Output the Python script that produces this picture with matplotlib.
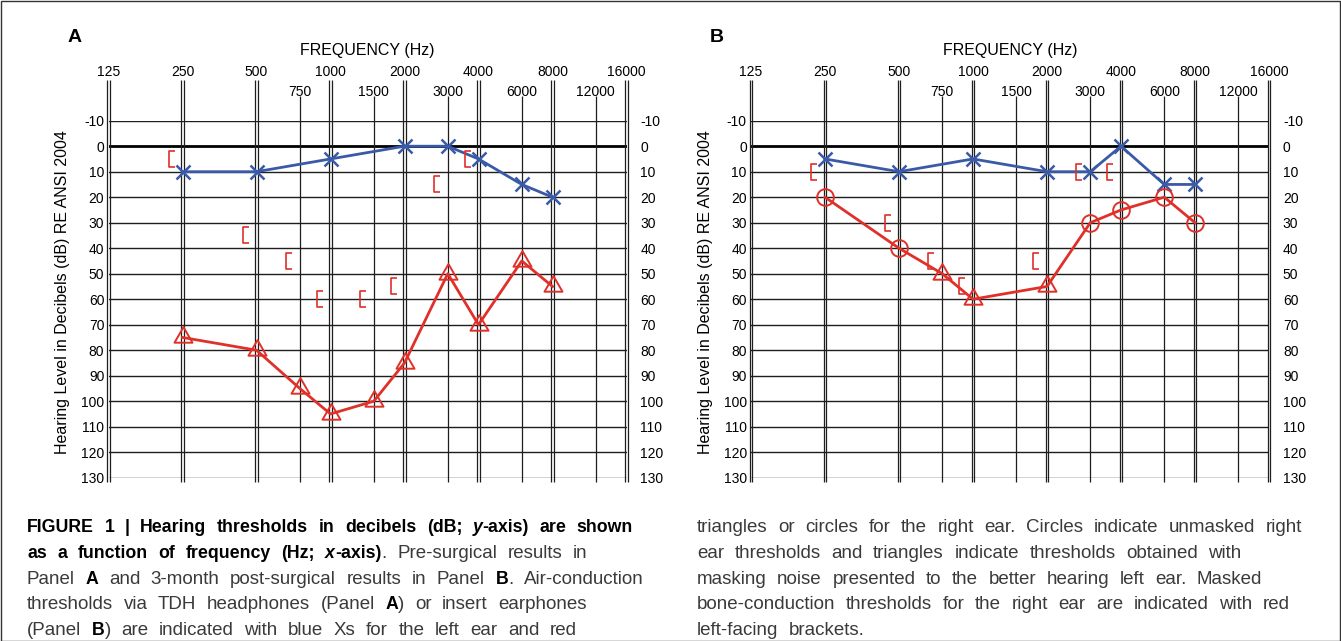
import matplotlib
matplotlib.use("Agg")
import matplotlib.pyplot as plt
from matplotlib.path import Path
from matplotlib.patches import Rectangle
from matplotlib.transforms import offset_copy

W, H = 1341, 641

# frequency grid (Hz) and hearing level grid (dB)
octaves = [125, 250, 500, 1000, 2000, 4000, 8000, 16000]
mids = [750, 1500, 3000, 6000, 12000]
levels = list(range(-10, 131, 10))

# Panel A - pre-surgical
a_left_freq = [250, 500, 1000, 2000, 3000, 4000, 6000, 8000]
a_left_db = [10, 10, 5, 0, 0, 5, 15, 20]
a_right_freq = [250, 500, 750, 1000, 1500, 2000, 3000, 4000, 6000, 8000]
a_right_db = [75, 80, 95, 105, 100, 85, 50, 70, 45, 55]
a_right_masked = [True, True, True, True, True, True, True, True, True, True]
a_bone_freq = [250, 500, 750, 1000, 1500, 2000, 3000, 4000]
a_bone_db = [5, 35, 45, 60, 60, 55, 15, 5]

# Panel B - 3 months post-surgical
b_left_freq = [250, 500, 1000, 2000, 3000, 4000, 6000, 8000]
b_left_db = [5, 10, 5, 10, 10, 0, 15, 15]
b_right_freq = [250, 500, 750, 1000, 2000, 3000, 4000, 6000, 8000]
b_right_db = [20, 40, 50, 60, 55, 30, 25, 20, 30]
b_right_masked = [False, False, True, True, True, False, False, False, False]
b_bone_freq = [250, 500, 750, 1000, 2000, 3000, 4000]
b_bone_db = [10, 30, 45, 55, 45, 10, 10]

BLUE = "#3a5aa8"
RED = "#e0302a"
GRID = "#1e1e1e"
SANS = ["Liberation Sans", "DejaVu Sans"]

plt.rcParams["font.family"] = SANS

# triangle with its centroid on the data point, and a "[" bracket
TRI = Path([(0, 1), (-0.866, -0.5), (0.866, -0.5), (0, 1)],
           [Path.MOVETO, Path.LINETO, Path.LINETO, Path.CLOSEPOLY])
BRACKET = Path([(0.4, 1), (-0.4, 1), (-0.4, -1), (0.4, -1)],
               [Path.MOVETO, Path.LINETO, Path.LINETO, Path.LINETO])


def audiogram(fig, left, letter, lf, ld, rf, rd, masked, bf, bd):
    ax = fig.add_axes([left / W, 1 - 477.7 / H, 518 / W, 357 / H])
    ax.set_xscale("log", base=2)
    ax.set_xlim(125, 16000)
    ax.set_ylim(130, -10)
    for s in ax.spines.values():
        s.set_visible(False)

    # grid
    for lv in levels:
        ax.axhline(lv, color="black" if lv == 0 else GRID,
                   lw=2.0 if lv == 0 else 1.0, zorder=1)
    d = 2 ** 0.017
    dbl = [f / d for f in octaves] + [f * d for f in octaves]
    ax.vlines(dbl, -26, 131.5, color=GRID, lw=0.9, clip_on=False, zorder=1)
    ax.vlines(mids, -19.5, 131.5, color=GRID, lw=0.9, clip_on=False, zorder=1)

    # ticks
    ax.xaxis.set_ticks_position("top")
    ax.set_xticks(octaves, labels=[str(f) for f in octaves])
    ax.set_xticks(mids, labels=[str(f) for f in mids], minor=True)
    ax.tick_params(axis="x", which="major", length=0, pad=30, labelsize=10)
    ax.tick_params(axis="x", which="minor", length=0, pad=15.5, labelsize=10)
    ax.set_yticks(levels, labels=[str(v) for v in levels])
    ax.tick_params(axis="y", length=0, pad=3, labelsize=10)
    ax2 = ax.twinx()
    ax2.set_ylim(130, -10)
    ax2.set_yticks(levels, labels=[str(v) for v in levels])
    ax2.tick_params(axis="y", length=0, pad=10, labelsize=10)
    for s in ax2.spines.values():
        s.set_visible(False)

    # left ear air conduction
    ax.plot(lf, ld, color=BLUE, lw=2.0, marker="x", ms=10, mew=1.8,
            zorder=4, clip_on=False)
    # right ear air conduction
    ax.plot(rf, rd, color=RED, lw=2.0, zorder=3, clip_on=False)
    tf = [f for f, m in zip(rf, masked) if m]
    td = [v for v, m in zip(rd, masked) if m]
    cf = [f for f, m in zip(rf, masked) if not m]
    cd = [v for v, m in zip(rd, masked) if not m]
    ax.plot(tf, td, ls="none", marker=TRI, ms=15, mew=1.4, mec=RED,
            mfc="none", zorder=4)
    ax.plot(cf, cd, ls="none", marker="o", ms=12, mew=1.4, mec=RED,
            mfc="none", zorder=4)
    # masked bone conduction, drawn just left of the frequency line
    tr = offset_copy(ax.transData, fig=fig, x=-11, y=0, units="dots")
    ax.plot(bf, bd, ls="none", marker=BRACKET, ms=11, mew=1.2, mec=RED,
            mfc="none", transform=tr, zorder=4)

    fig.text((left - 45.5) / W, 1 - 292 / H,
             "Hearing Level in Decibels (dB) RE ANSI 2004",
             rotation=90, ha="center", va="center", fontsize=11.5)
    fig.text((left + 259) / W, 1 - 50 / H, "FREQUENCY (Hz)",
             ha="center", va="center", fontsize=11.5)
    fig.text((left - 41) / W, 1 - 38 / H, letter, ha="left", va="center",
             fontsize=14, fontweight="bold")
    return ax


def caption_line(fig, r, x, y, runs, size=13.5, gap=10.5):
    for text, weight, style, color in runs:
        pieces = text.split(" ")
        fs = size * 0.95 if weight == "bold" else size
        for i, p in enumerate(pieces):
            if i > 0:
                x += gap
            if p:
                t = fig.text(x / W, 1 - y / H, p, fontsize=fs,
                             fontweight=weight, fontstyle=style, color=color,
                             va="baseline", ha="left")
                x += t.get_window_extent(r).width


fig = plt.figure(figsize=(W / 100, H / 100), dpi=100)

audiogram(fig, 108.5, "A", a_left_freq, a_left_db, a_right_freq, a_right_db,
          a_right_masked, a_bone_freq, a_bone_db)
audiogram(fig, 751, "B", b_left_freq, b_left_db, b_right_freq, b_right_db,
          b_right_masked, b_bone_freq, b_bone_db)

fig.patches.append(Rectangle((0.5 / W, 0.5 / H), 1 - 1.5 / W, 1 - 1.5 / H,
                             transform=fig.transFigure, fill=False,
                             ec="#333333", lw=1.0))

# caption
r = fig.canvas.get_renderer()
K, G = "black", "#3a3a3a"
left_lines = [
    [("FIGURE 1 | Hearing thresholds in decibels (dB; ", "bold", "normal", K),
     ("y", "bold", "italic", K), ("-axis) are shown", "bold", "normal", K)],
    [("as a function of frequency (Hz; ", "bold", "normal", K),
     ("x", "bold", "italic", K), ("-axis)", "bold", "normal", K),
     (". Pre-surgical results in", "normal", "normal", G)],
    [("Panel ", "normal", "normal", G), ("A", "bold", "normal", K),
     (" and 3-month post-surgical results in Panel ", "normal", "normal", G),
     ("B", "bold", "normal", K), (". Air-conduction", "normal", "normal", G)],
    [("thresholds via TDH headphones (Panel ", "normal", "normal", G),
     ("A", "bold", "normal", K), (") or insert earphones", "normal", "normal", G)],
    [("(Panel ", "normal", "normal", G), ("B", "bold", "normal", K),
     (") are indicated with blue Xs for the left ear and red", "normal", "normal", G)],
]
right_lines = [
    "triangles or circles for the right ear. Circles indicate unmasked right",
    "ear thresholds and triangles indicate thresholds obtained with",
    "masking noise presented to the better hearing left ear. Masked",
    "bone-conduction thresholds for the right ear are indicated with red",
    "left-facing brackets.",
]
for i, runs in enumerate(left_lines):
    caption_line(fig, r, 27, 532 + 25.8 * i, runs)
for i, line in enumerate(right_lines):
    caption_line(fig, r, 697, 532 + 25.8 * i, [(line, "normal", "normal", G)])

fig.savefig("out.png", dpi=100)
